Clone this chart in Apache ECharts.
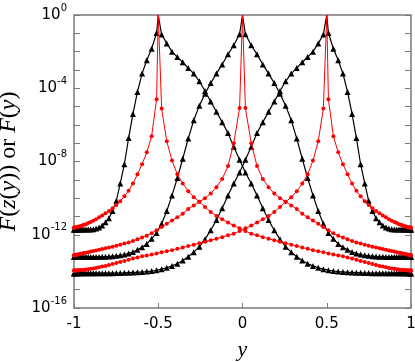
<!DOCTYPE html>
<html><head><meta charset="utf-8">
<script src="https://cdn.jsdelivr.net/npm/echarts@6/dist/echarts.min.js"></script>
<style>html,body{margin:0;padding:0;background:#fff}#c{width:415px;height:362px}</style>
</head><body><div id="c"></div>
<script>
// sample positions (y) shared by all curves
const xNodes = [-1,-0.9994,-0.9976,-0.9946,-0.9905,-0.9851,-0.9786,-0.9709,-0.9621,-0.9521,-0.9410,-0.9288,-0.9154,-0.9010,-0.8855,-0.8689,-0.8512,-0.8326,-0.8131,-0.7925,-0.7711,-0.7487,-0.7255,-0.7010,-0.6760,-0.6502,-0.6235,-0.5961,-0.5681,-0.5393,-0.5099,-0.4799,-0.4494,-0.4183,-0.3866,-0.3546,-0.3221,-0.2893,-0.2560,-0.2226,-0.1887,-0.1547,-0.1206,-0.0862,-0.0518,-0.0173,
0.0173,0.0518,0.0862,0.1206,0.1547,0.1887,0.2226,0.2560,0.2893,0.3221,0.3546,0.3866,0.4183,0.4494,0.4799,0.5099,0.5393,0.5681,0.5961,0.6235,0.6502,0.6760,0.7010,0.7255,0.7487,0.7711,0.7925,0.8131,0.8326,0.8512,0.8689,0.8855,0.9010,0.9154,0.9288,0.9410,0.9521,0.9621,0.9709,0.9786,0.9851,0.9905,0.9946,0.9976,0.9994,1];

// peak centres and the peak value exponent (10^0)
const peakCenters = [-0.5, 0, 0.5];
const peakExp = 0;

// log10 values, F(z(y)) (black triangles)
const blackA = [-11.72,-11.72,-11.72,-11.72,-11.72,-11.72,-11.72,-11.72,-11.72,-11.72,-11.72,-11.72,-11.71,-11.71,-11.70,-11.66,-11.60,-11.50,-11.32,-11.10,-10.70,-10.15,-9.2,-8.15,-6.72,-5.4,-4.2,-3.2,-2.47,-1.84,-0.98,-1.07,-1.55,-2.0,-2.3,-2.58,-2.9,-3.2,-3.62,-4.15,-4.73,-5.28,-5.85,-6.45,-7.2,-7.9,
-8.6,-9.2,-9.85,-10.55,-11.2,-11.75,-12.25,-12.65,-12.95,-13.2,-13.4,-13.58,-13.7,-13.8,-13.88,-13.94,-13.98,-14.01,-14.03,-14.05,-14.06,-14.07,-14.08,-14.09,-14.09,-14.1,-14.1,-14.1,-14.1,-14.1,-14.1,-14.1,-14.1,-14.1,-14.1,-14.1,-14.1,-14.1,-14.1,-14.1,-14.1,-14.1,-14.1,-14.1,-14.1,-14.1];
const blackB = [-13.22,-13.22,-13.22,-13.22,-13.22,-13.22,-13.22,-13.22,-13.22,-13.22,-13.22,-13.22,-13.21,-13.21,-13.21,-13.21,-13.21,-13.2,-13.2,-13.19,-13.17,-13.15,-13.12,-13.08,-13.02,-12.94,-12.82,-12.68,-12.5,-12.22,-11.9,-11.4,-10.7,-9.85,-8.9,-7.85,-6.75,-5.75,-4.95,-4.3,-3.72,-3.2,-2.7,-2.15,-1.65,-1.05,
-1.05,-1.65,-2.15,-2.7,-3.2,-3.72,-4.3,-4.95,-5.75,-6.75,-7.85,-8.9,-9.85,-10.7,-11.4,-11.9,-12.22,-12.5,-12.68,-12.82,-12.94,-13.02,-13.08,-13.12,-13.15,-13.17,-13.19,-13.2,-13.2,-13.21,-13.21,-13.21,-13.21,-13.21,-13.22,-13.22,-13.22,-13.22,-13.22,-13.22,-13.22,-13.22,-13.22,-13.22,-13.22,-13.22];
const blackC = [-14.1,-14.1,-14.1,-14.1,-14.1,-14.1,-14.1,-14.1,-14.1,-14.1,-14.1,-14.1,-14.1,-14.1,-14.1,-14.1,-14.1,-14.1,-14.1,-14.1,-14.1,-14.09,-14.09,-14.08,-14.07,-14.06,-14.05,-14.03,-14.01,-13.98,-13.94,-13.88,-13.8,-13.7,-13.58,-13.4,-13.2,-12.95,-12.65,-12.25,-11.75,-11.2,-10.55,-9.85,-9.2,-8.6,
-7.9,-7.2,-6.45,-5.85,-5.28,-4.73,-4.15,-3.62,-3.2,-2.9,-2.58,-2.3,-2.0,-1.55,-1.07,-0.98,-1.84,-2.47,-3.2,-4.2,-5.4,-6.72,-8.15,-9.2,-10.15,-10.70,-11.10,-11.32,-11.50,-11.60,-11.66,-11.70,-11.71,-11.71,-11.72,-11.72,-11.72,-11.72,-11.72,-11.72,-11.72,-11.72,-11.72,-11.72,-11.72,-11.72];

// log10 values, F(y) (red dots)
const redA = [-11.62,-11.62,-11.61,-11.61,-11.6,-11.59,-11.57,-11.55,-11.53,-11.5,-11.46,-11.42,-11.36,-11.3,-11.23,-11.15,-11.05,-10.95,-10.82,-10.7,-10.55,-10.37,-10.17,-9.9,-9.6,-9.2,-8.7,-8.15,-7.5,-6.62,-4.6,-5.11,-6.9,-7.95,-8.7,-9.2,-9.62,-9.95,-10.2,-10.48,-10.76,-10.97,-11.16,-11.33,-11.5,-11.65,
-11.8,-11.95,-12.03,-12.13,-12.22,-12.3,-12.38,-12.46,-12.54,-12.62,-12.7,-12.77,-12.84,-12.9,-12.96,-13.02,-13.08,-13.13,-13.18,-13.24,-13.3,-13.36,-13.43,-13.49,-13.54,-13.6,-13.65,-13.7,-13.74,-13.78,-13.81,-13.84,-13.86,-13.88,-13.9,-13.91,-13.92,-13.93,-13.94,-13.94,-13.95,-13.95,-13.95,-13.95,-13.95,-13.95];
const redB = [-13.12,-13.12,-13.12,-13.11,-13.1,-13.09,-13.08,-13.06,-13.04,-13.02,-13.0,-12.98,-12.95,-12.92,-12.89,-12.86,-12.82,-12.78,-12.74,-12.7,-12.65,-12.6,-12.55,-12.48,-12.42,-12.34,-12.25,-12.15,-12.05,-11.92,-11.75,-11.57,-11.4,-11.22,-11.05,-10.85,-10.6,-10.4,-10.2,-10.0,-9.75,-9.4,-8.95,-8.25,-7.0,-5.08,
-5.08,-7.0,-8.25,-8.95,-9.4,-9.75,-10.0,-10.2,-10.4,-10.6,-10.85,-11.05,-11.22,-11.4,-11.57,-11.75,-11.92,-12.05,-12.15,-12.25,-12.34,-12.42,-12.48,-12.55,-12.6,-12.65,-12.7,-12.74,-12.78,-12.82,-12.86,-12.89,-12.92,-12.95,-12.98,-13.0,-13.02,-13.04,-13.06,-13.08,-13.09,-13.1,-13.11,-13.12,-13.12,-13.12];
const redC = [-13.95,-13.95,-13.95,-13.95,-13.95,-13.95,-13.94,-13.94,-13.93,-13.92,-13.91,-13.9,-13.88,-13.86,-13.84,-13.81,-13.78,-13.74,-13.7,-13.65,-13.6,-13.54,-13.49,-13.43,-13.36,-13.3,-13.24,-13.18,-13.13,-13.08,-13.02,-12.96,-12.9,-12.84,-12.77,-12.7,-12.62,-12.54,-12.46,-12.38,-12.3,-12.22,-12.13,-12.03,-11.95,-11.8,
-11.65,-11.5,-11.33,-11.16,-10.97,-10.76,-10.48,-10.2,-9.95,-9.62,-9.2,-8.7,-7.95,-6.9,-5.11,-4.6,-6.62,-7.5,-8.15,-8.7,-9.2,-9.6,-9.9,-10.17,-10.37,-10.55,-10.7,-10.82,-10.95,-11.05,-11.15,-11.23,-11.3,-11.36,-11.42,-11.46,-11.5,-11.53,-11.55,-11.57,-11.59,-11.6,-11.61,-11.61,-11.62,-11.62];

// axis tick labels
const xTickValues = [-1, -0.5, 0, 0.5, 1];
const yLabelExps = [0, -4, -8, -12, -16];

function build(vals, center) {
  const d = [];
  let placed = false;
  for (let i = 0; i < xNodes.length; i++) {
    if (!placed && xNodes[i] > center) {
      d.push({ value: [center, peakExp], symbol: 'none' });
      placed = true;
    }
    d.push([xNodes[i], vals[i]]);
  }
  return d;
}

const GRAY = '#7a7a7a';
const blackSets = [[blackA, peakCenters[0]], [blackB, peakCenters[1]], [blackC, peakCenters[2]]];
const redSets = [[redA, peakCenters[0]], [redB, peakCenters[1]], [redC, peakCenters[2]]];
const series = [];
blackSets.forEach(([v, c]) => series.push({
  type: 'line', data: build(v, c), symbol: 'triangle', symbolSize: 6,
  itemStyle: { color: '#000' }, lineStyle: { color: '#000', width: 1.2 }, z: 2
}));
redSets.forEach(([v, c]) => series.push({
  type: 'line', data: build(v, c), symbol: 'circle', symbolSize: 4,
  itemStyle: { color: '#ff0000' }, lineStyle: { color: '#ff0000', width: 1 }, z: 3
}));

const chart = echarts.init(document.getElementById('c'), null, { renderer: 'canvas' });
chart.setOption({
  animation: false,
  backgroundColor: '#fff',
  grid: { left: 74, right: 4, top: 15, bottom: 54, show: true, borderColor: GRAY, borderWidth: 1.5,
    containLabel: false, outerBoundsMode: 'none' },
  xAxis: {
    type: 'value', min: xTickValues[0], max: xTickValues[xTickValues.length - 1], interval: 0.5,
    axisLine: { show: false, onZero: false },
    axisTick: { show: true, inside: true, length: 5, lineStyle: { color: GRAY } },
    splitLine: { show: false },
    axisLabel: { color: '#000', fontSize: 15, fontFamily: 'DejaVu Sans', margin: 9,
      formatter: v => xTickValues.indexOf(v) >= 0 ? String(v) : '' },
    name: 'y', nameLocation: 'middle', nameGap: 31,
    nameTextStyle: { fontFamily: 'Liberation Serif', fontStyle: 'italic', fontSize: 22, color: '#000' }
  },
  yAxis: [{
    type: 'value', min: -16, max: 0, interval: 1, position: 'left',
    axisLine: { show: false, onZero: false },
    axisTick: { show: true, inside: true, length: 6, lineStyle: { color: GRAY } },
    splitLine: { show: false },
    axisLabel: {
      margin: 7,
      formatter: v => yLabelExps.indexOf(v) >= 0 ? '{b|10}{s|' + v + '}' : '',
      rich: {
        b: { fontSize: 15, fontFamily: 'DejaVu Sans', color: '#000', lineHeight: 24 },
        s: { fontSize: 10, fontFamily: 'DejaVu Sans', color: '#000', verticalAlign: 'top', lineHeight: 10 }
      }
    },
    name: '{i|F}({i|z}({i|y})) or {i|F}({i|y})', nameLocation: 'middle', nameGap: 44, nameRotate: 90,
    nameTextStyle: { fontFamily: 'Liberation Serif', fontSize: 24, color: '#000',
      rich: { i: { fontFamily: 'Liberation Serif', fontStyle: 'italic', fontSize: 24, color: '#000' } } }
  }, {
    type: 'value', min: -16, max: 0, interval: 1, position: 'right',
    axisLine: { show: false, onZero: false },
    axisTick: { show: true, inside: true, length: 6, lineStyle: { color: GRAY } },
    splitLine: { show: false },
    axisLabel: { show: false }
  }],
  series: series
});
</script>
</body></html>
